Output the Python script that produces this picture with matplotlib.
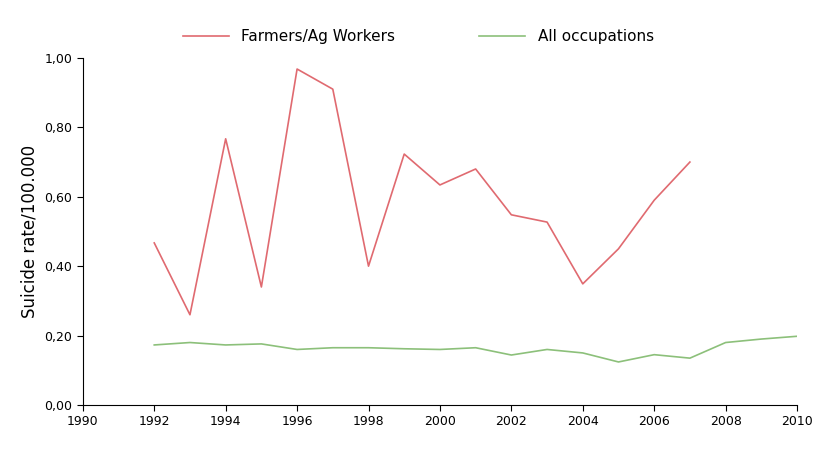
import matplotlib.pyplot as plt
from matplotlib.ticker import FuncFormatter

# Data
farm_years = [1992, 1993, 1994, 1995, 1996, 1997, 1998, 1999, 2000, 2001,
              2002, 2003, 2004, 2005, 2006, 2007]
farm_rate = [0.467, 0.26, 0.767, 0.34, 0.968, 0.91, 0.40, 0.723, 0.634, 0.68,
             0.548, 0.527, 0.349, 0.45, 0.59, 0.70]
all_years = list(range(1992, 2011))
all_rate = [0.173, 0.18, 0.173, 0.176, 0.16, 0.165, 0.165, 0.162, 0.16, 0.165,
            0.144, 0.16, 0.15, 0.124, 0.145, 0.135, 0.18, 0.19, 0.198]

fig = plt.figure(figsize=(8.2, 4.49), dpi=100)
ax = fig.add_axes([0.101, 0.098, 0.871, 0.773])

ax.plot(farm_years, farm_rate, color="#e06a70", lw=1.2, label="Farmers/Ag Workers")
ax.plot(all_years, all_rate, color="#8cc07a", lw=1.2, label="All occupations")

ax.set_xlim(1990, 2010)
ax.set_ylim(0, 1.0)
ax.set_xticks(range(1990, 2011, 2))
ax.set_yticks([0, 0.2, 0.4, 0.6, 0.8, 1.0])
ax.yaxis.set_major_formatter(FuncFormatter(lambda v, p: f"{v:.2f}".replace(".", ",")))
ax.tick_params(labelsize=9, length=4)
ax.set_ylabel("Suicide rate/100.000", fontsize=12)
for s in ["top", "right"]:
    ax.spines[s].set_visible(False)

ax.legend(loc="lower center", bbox_to_anchor=(0.47, 1.0), ncol=2, frameon=False,
          fontsize=11, handlelength=3.0, columnspacing=5.5)

fig.savefig("out.png", dpi=100)
